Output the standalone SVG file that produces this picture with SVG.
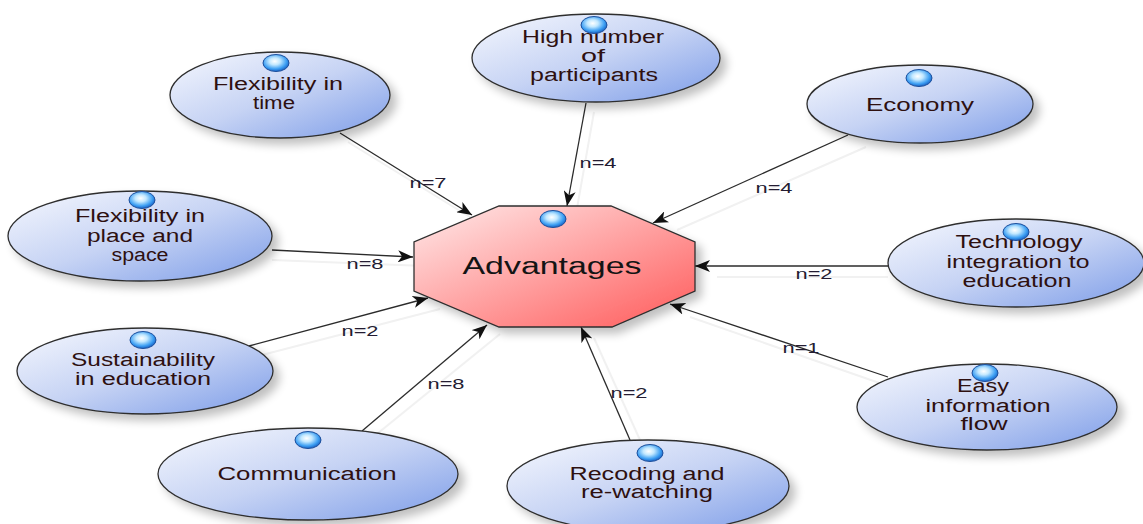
<svg xmlns="http://www.w3.org/2000/svg" width="1143" height="524" viewBox="0 0 1143 524">
<style>
.ell{fill:url(#ellGrad);stroke:#2e2e2e;stroke-width:1.3;filter:url(#shadow)}
.oct{fill:url(#octGrad);stroke:#2e2e2e;stroke-width:1.3;filter:url(#shadow)}
.ico{fill:url(#icoGrad);stroke:#1d4f9c;stroke-width:1}
.t{font-family:"Liberation Sans",Arial,sans-serif;font-size:18px;fill:#2e1010;text-anchor:middle}
.big{font-family:"Liberation Sans",Arial,sans-serif;font-size:23px;fill:#141414;text-anchor:middle}
.lbl{font-family:"Liberation Sans",Arial,sans-serif;font-size:15px;fill:#241c32;text-anchor:middle}
.c{stroke:#2b2b2b;stroke-width:1.3;fill:none;marker-end:url(#arr)}
.s{stroke:#f1f1f1;stroke-width:2;fill:none}
</style>
<defs>
<linearGradient id="ellGrad" x1="0" y1="0" x2="1" y2="1">
<stop offset="0" stop-color="#f6f8fe"/>
<stop offset="0.5" stop-color="#c6d3f4"/>
<stop offset="1" stop-color="#7c9ce8"/>
</linearGradient>
<linearGradient id="octGrad" x1="0" y1="0" x2="1" y2="1">
<stop offset="0" stop-color="#ffeaea"/>
<stop offset="1" stop-color="#ff5a5a"/>
</linearGradient>
<radialGradient id="icoGrad" cx="0.45" cy="0.4" r="0.6">
<stop offset="0" stop-color="#ffffff"/>
<stop offset="0.35" stop-color="#c2e8ff"/>
<stop offset="0.75" stop-color="#3d9ff3"/>
<stop offset="1" stop-color="#1a62c4"/>
</radialGradient>
<filter id="shadow" x="-20%" y="-20%" width="150%" height="150%">
<feGaussianBlur in="SourceAlpha" stdDeviation="5"/>
<feOffset dx="6" dy="6" result="b"/>
<feComponentTransfer><feFuncA type="linear" slope="0.25"/></feComponentTransfer>
<feMerge><feMergeNode/><feMergeNode in="SourceGraphic"/></feMerge>
</filter>
<marker id="arr" markerUnits="userSpaceOnUse" markerWidth="16" markerHeight="12" refX="15" refY="6" orient="auto">
<path d="M0,0 L15,6 L0,12 L4,6 Z" fill="#111"/>
</marker>
</defs>
<rect width="1143" height="524" fill="#ffffff"/>

<g id="connectors">
<line class="s" x1="348" y1="142" x2="478" y2="222"/>
<line class="s" x1="594" y1="112" x2="576" y2="214"/>
<line class="s" x1="866" y1="147" x2="677" y2="230"/>
<line class="s" x1="888" y1="277" x2="717" y2="277"/>
<line class="s" x1="888" y1="386" x2="690" y2="317"/>
<line class="s" x1="640" y1="440" x2="594" y2="338"/>
<line class="s" x1="372" y1="438" x2="500" y2="334"/>
<line class="s" x1="258" y1="356" x2="440" y2="309"/>
<line class="s" x1="272" y1="260" x2="425" y2="266"/>
<line class="c" x1="340" y1="133" x2="472" y2="215"/>
<line class="c" x1="586" y1="103" x2="567" y2="206"/>
<line class="c" x1="848" y1="135" x2="653" y2="223"/>
<line class="c" x1="888" y1="266" x2="695" y2="266"/>
<line class="c" x1="888" y1="377" x2="670" y2="304"/>
<line class="c" x1="630" y1="440" x2="581" y2="327"/>
<line class="c" x1="362" y1="431" x2="487" y2="325"/>
<line class="c" x1="249" y1="346" x2="428" y2="298"/>
<line class="c" x1="272" y1="250" x2="413" y2="257"/>
<text class="lbl" x="428" y="188" textLength="37" lengthAdjust="spacingAndGlyphs">n=7</text>
<text class="lbl" x="598" y="168" textLength="37" lengthAdjust="spacingAndGlyphs">n=4</text>
<text class="lbl" x="774" y="193" textLength="37" lengthAdjust="spacingAndGlyphs">n=4</text>
<text class="lbl" x="814" y="279" textLength="37" lengthAdjust="spacingAndGlyphs">n=2</text>
<text class="lbl" x="801" y="353" textLength="37" lengthAdjust="spacingAndGlyphs">n=1</text>
<text class="lbl" x="629" y="398" textLength="37" lengthAdjust="spacingAndGlyphs">n=2</text>
<text class="lbl" x="446" y="389" textLength="37" lengthAdjust="spacingAndGlyphs">n=8</text>
<text class="lbl" x="360" y="336" textLength="37" lengthAdjust="spacingAndGlyphs">n=2</text>
<text class="lbl" x="365" y="269" textLength="37" lengthAdjust="spacingAndGlyphs">n=8</text>
</g>

<g id="node-advantages">
<polygon class="oct" points="499,206 611,206 695,242 695,291 612,327 499,327 414,291 414,242"/>
<ellipse class="ico" cx="553" cy="219" rx="13" ry="8.5"/>
<text class="big" x="552" y="274" textLength="179" lengthAdjust="spacingAndGlyphs">Advantages</text>
</g>

<g id="node-flex-time">
<ellipse class="ell" cx="280" cy="95" rx="110" ry="43"/>
<ellipse class="ico" cx="276" cy="63" rx="13" ry="8.5"/>
<text class="t" x="278" y="90" textLength="130" lengthAdjust="spacingAndGlyphs">Flexibility in</text>
<text class="t" x="274" y="109" textLength="42" lengthAdjust="spacingAndGlyphs">time</text>
</g>

<g id="node-high-number">
<ellipse class="ell" cx="596" cy="58" rx="124" ry="44"/>
<text class="t" x="593" y="43" textLength="142" lengthAdjust="spacingAndGlyphs">High number</text>
<text class="t" x="593" y="62" textLength="24" lengthAdjust="spacingAndGlyphs">of</text>
<text class="t" x="594" y="81" textLength="128" lengthAdjust="spacingAndGlyphs">participants</text>
<ellipse class="ico" cx="594" cy="25" rx="13" ry="8.5"/>
</g>

<g id="node-economy">
<ellipse class="ell" cx="920" cy="104" rx="113" ry="39"/>
<ellipse class="ico" cx="919" cy="78" rx="13" ry="8.5"/>
<text class="t" x="920" y="111" textLength="108" lengthAdjust="spacingAndGlyphs">Economy</text>
</g>

<g id="node-technology">
<ellipse class="ell" cx="1016" cy="263" rx="128" ry="44"/>
<text class="t" x="1019" y="248" textLength="127" lengthAdjust="spacingAndGlyphs">Technology</text>
<text class="t" x="1018" y="268" textLength="143" lengthAdjust="spacingAndGlyphs">integration to</text>
<text class="t" x="1017" y="287" textLength="109" lengthAdjust="spacingAndGlyphs">education</text>
<ellipse class="ico" cx="1016" cy="232" rx="13" ry="8.5"/>
</g>

<g id="node-easy-info">
<ellipse class="ell" cx="987" cy="407" rx="130" ry="43"/>
<text class="t" x="983" y="392" textLength="52" lengthAdjust="spacingAndGlyphs">Easy</text>
<text class="t" x="988" y="412" textLength="125" lengthAdjust="spacingAndGlyphs">information</text>
<text class="t" x="984" y="430" textLength="47" lengthAdjust="spacingAndGlyphs">flow</text>
<ellipse class="ico" cx="985" cy="373" rx="13" ry="8.5"/>
</g>

<g id="node-recoding">
<ellipse class="ell" cx="648" cy="486" rx="141" ry="46"/>
<ellipse class="ico" cx="650" cy="453" rx="13" ry="8.5"/>
<text class="t" x="647" y="480" textLength="155" lengthAdjust="spacingAndGlyphs">Recoding and</text>
<text class="t" x="647" y="498" textLength="132" lengthAdjust="spacingAndGlyphs">re-watching</text>
</g>

<g id="node-communication">
<ellipse class="ell" cx="308" cy="474" rx="150" ry="46"/>
<ellipse class="ico" cx="308" cy="440" rx="13" ry="8.5"/>
<text class="t" x="307" y="480" textLength="179" lengthAdjust="spacingAndGlyphs">Communication</text>
</g>

<g id="node-sustainability">
<ellipse class="ell" cx="145" cy="371" rx="128" ry="43"/>
<ellipse class="ico" cx="143" cy="340" rx="13" ry="8.5"/>
<text class="t" x="143" y="366" textLength="144" lengthAdjust="spacingAndGlyphs">Sustainability</text>
<text class="t" x="143" y="385" textLength="136" lengthAdjust="spacingAndGlyphs">in education</text>
</g>

<g id="node-flex-place">
<ellipse class="ell" cx="140" cy="236" rx="132" ry="45"/>
<ellipse class="ico" cx="142" cy="200" rx="13" ry="8.5"/>
<text class="t" x="140" y="222" textLength="130" lengthAdjust="spacingAndGlyphs">Flexibility in</text>
<text class="t" x="140" y="242" textLength="106" lengthAdjust="spacingAndGlyphs">place and</text>
<text class="t" x="140" y="261" textLength="57" lengthAdjust="spacingAndGlyphs">space</text>
</g>
</svg>
